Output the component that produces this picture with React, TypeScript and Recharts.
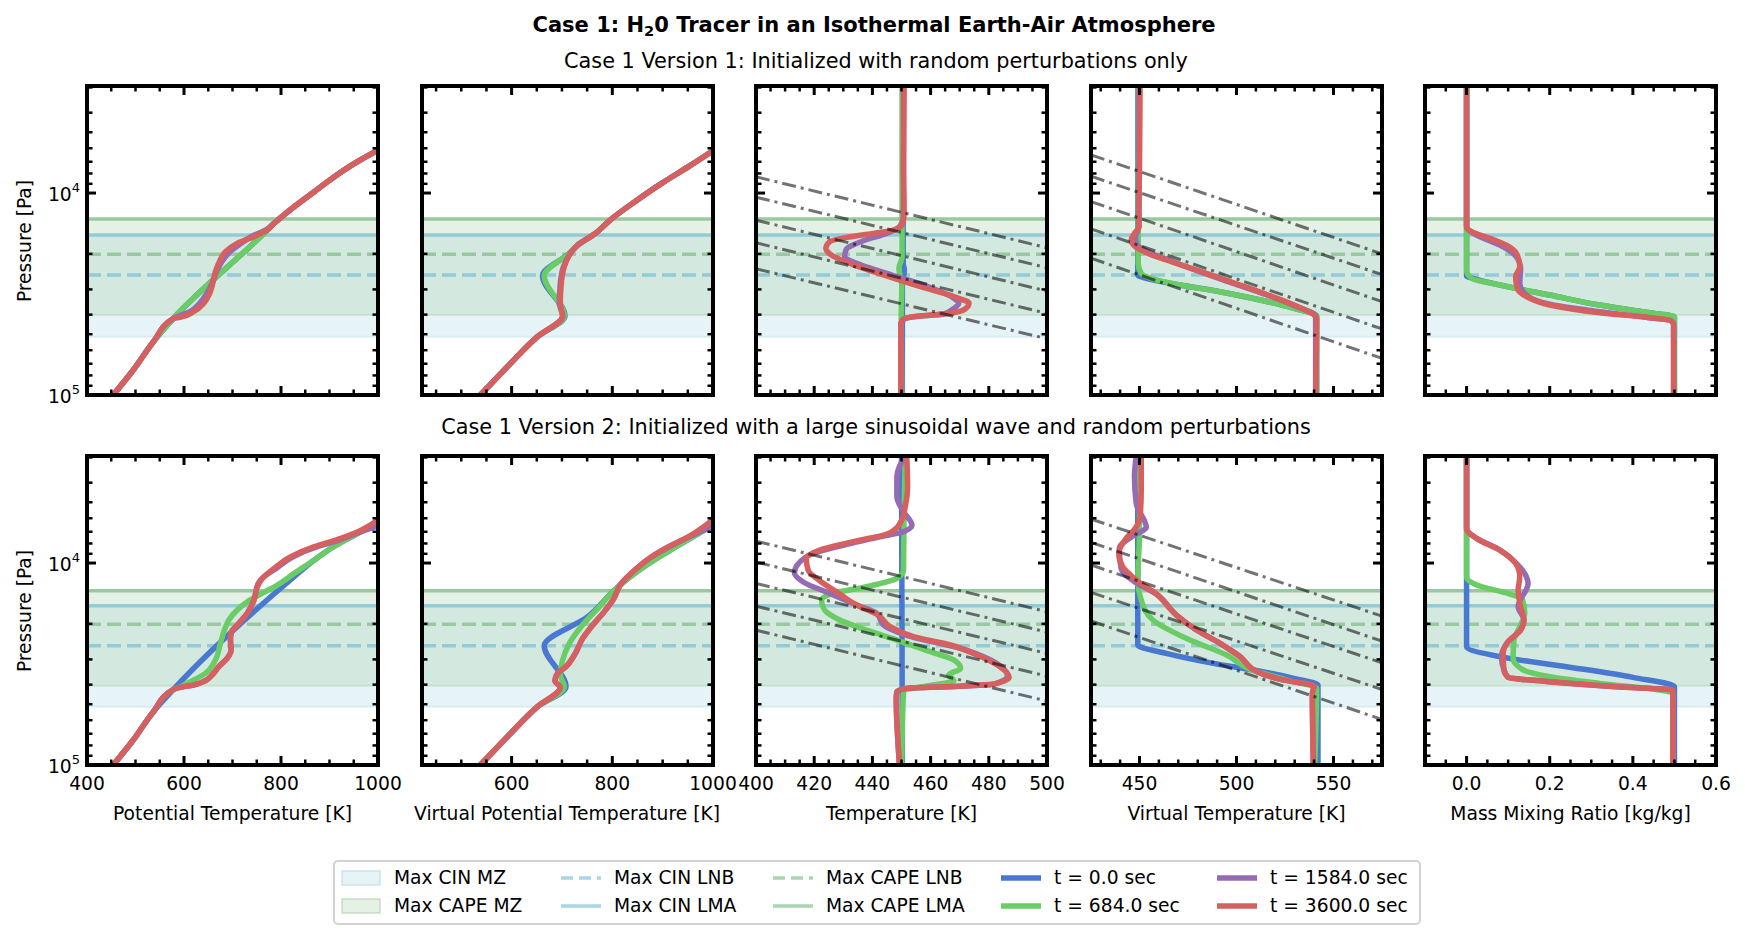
import React from 'react';
import { LineChart, Line, XAxis, YAxis, ReferenceArea, ReferenceLine } from 'recharts';

type Pt = [number, number]; // [pressure in Pa, x value]

const FONT = '"DejaVu Sans", "Liberation Sans", sans-serif';
const C_T0 = '#4878D0';
const C_T684 = '#6ACC64';
const C_T1584 = '#956CB4';
const C_T3600 = '#D65F5F';
const C_CIN_LINE = '#93cad7';
const C_CAPE_LINE = '#98c9a1';
const C_CIN_FILL = '#add8e6';
const C_CAPE_FILL = '#a8cfa6';

const FS = 18.7;

// ---------- pressure axis ----------
const P_DOMAIN: [number, number] = [2951, 100000];
const P_TICKS = [3000, 4000, 5000, 6000, 7000, 8000, 9000, 10000, 20000, 30000, 40000, 50000, 60000, 70000, 80000, 90000, 100000];
const P_MAJOR = [10000, 100000];

// ---------- x axes ----------
const THETA_DOMAIN: [number, number] = [400, 1000];
const THETA_TICKS = [400, 450, 500, 550, 600, 650, 700, 750, 800, 850, 900, 950, 1000];
const THETA_MAJOR = [400, 600, 800, 1000];
const THETAV_DOMAIN: [number, number] = [422, 1000];
const THETAV_TICKS = [450, 500, 550, 600, 650, 700, 750, 800, 850, 900, 950, 1000];
const THETAV_MAJOR = [600, 800, 1000];
const T_DOMAIN: [number, number] = [400, 500];
const T_TICKS = [400, 405, 410, 415, 420, 425, 430, 435, 440, 445, 450, 455, 460, 465, 470, 475, 480, 485, 490, 495, 500];
const T_MAJOR = [400, 420, 440, 460, 480, 500];
const TV_DOMAIN: [number, number] = [425, 575];
const TV_TICKS = [430, 440, 450, 460, 470, 480, 490, 500, 510, 520, 530, 540, 550, 560, 570];
const TV_MAJOR = [450, 500, 550];
const Q_DOMAIN: [number, number] = [-0.1, 0.6];
const Q_TICKS = [-0.05, 0, 0.05, 0.1, 0.15, 0.2, 0.25, 0.3, 0.35, 0.4, 0.45, 0.5, 0.55, 0.6];
const Q_MAJOR = [0, 0.2, 0.4, 0.6];

const X_LABELS = ['Potential Temperature [K]', 'Virtual Potential Temperature [K]', 'Temperature [K]', 'Virtual Temperature [K]', 'Mass Mixing Ratio [kg/kg]'];

// ---------- band / level pressures: [CAPE LMA, CIN LMA, CAPE LNB, CIN LNB, CAPE MZ bottom, CIN MZ bottom] ----------
const R1_LEVELS = [13450, 16140, 20120, 25460, 40180, 51430];
const R2_LEVELS = [13710, 16260, 20120, 25660, 40490, 51430];

// ================= ROW 1 =================
const R1_THETA_T0: Pt[] = [[6126, 1000], [7131, 951.6], [8300, 910.1], [9849, 868.6], [11690, 827.2], [14130, 785.7], [15250, 771.9], [41740, 578.3], [54450, 536.9], [75200, 495.4], [100000, 453.9]];
const R1_THETA_T684: Pt[] = [[6126, 1000], [7131, 951.6], [8300, 910.1], [9849, 868.6], [11690, 827.2], [14130, 785.7], [15250, 771.9], [41740, 578.3], [54450, 536.9], [75200, 495.4], [100000, 453.9]];
const R1_THETA_T1584: Pt[] = [[6126, 1000], [7131, 951.6], [8300, 910.1], [9849, 868.6], [11690, 827.2], [14130, 785.7], [15250, 768], [16450, 738], [17750, 718], [19520, 695], [21880, 678], [24510, 667], [28010, 658], [31380, 647], [35180, 632], [38680, 612], [41740, 578.3], [54450, 536.9], [75200, 495.4], [100000, 453.9]];
const R1_THETA_T3600: Pt[] = [[6126, 1000], [7131, 951.6], [8300, 910.1], [9849, 868.6], [11690, 827.2], [14130, 785.7], [15250, 771.9], [16450, 744.2], [17750, 709.7], [19520, 685.5], [21880, 673], [24510, 664.7], [28010, 659.2], [31380, 653], [35180, 640.5], [38680, 619.8], [41260, 592.2], [41740, 578.3], [54450, 536.9], [75200, 495.4], [100000, 453.9]];

const R1_THETAV_T0: Pt[] = [[6180, 1000], [7405, 951.3], [8958, 898], [11040, 844.7], [13450, 798], [15960, 764.7], [18090, 731.3], [19890, 714.7], [25660, 661.3], [40640, 706], [51430, 651.3], [69690, 598], [100000, 538]];
const R1_THETAV_T684: Pt[] = [[6180, 1000], [7405, 951.3], [8958, 898], [11040, 844.7], [13450, 798], [15960, 764.7], [18090, 731.3], [19890, 714.7], [25660, 664.7], [40640, 704.7], [51430, 651.3], [69690, 598], [100000, 538]];
const R1_THETAV_T1584: Pt[] = [[6180, 1000], [7405, 951.3], [8958, 898], [11040, 844.7], [13450, 798], [15960, 764.7], [18090, 731.3], [20270, 714.7], [23160, 703], [28010, 696.7], [35180, 694.7], [40640, 701.3], [51430, 651.3], [69690, 598], [100000, 538]];
const R1_THETAV_T3600: Pt[] = [[6180, 1000], [7405, 951.3], [8958, 898], [11040, 844.7], [13450, 798], [15960, 764.7], [18090, 731.3], [20270, 714.7], [23160, 704.7], [29090, 698], [35180, 696.7], [40640, 701.3], [51430, 651.3], [69690, 598], [100000, 538]];

const R1_T_T0: Pt[] = [[2951, 450.5], [22290, 450.6], [24060, 451], [28010, 450.3], [100000, 450.3]];
const R1_T_T684: Pt[] = [[2951, 450.2], [20660, 450.2], [23600, 449.1], [28010, 450.1], [40950, 449.9], [100000, 450.1]];
const R1_T_T1584: Pt[] = [[2951, 450.7], [13100, 450.7], [14680, 449.3], [15840, 444.9], [17220, 436.9], [19150, 430.9], [20660, 430.5], [22290, 434.6], [24980, 444.9], [28540, 457.6], [33220, 468], [35180, 469.7], [37240, 468], [39720, 464.5], [40950, 454.1], [42210, 450.7], [44520, 449.8], [100000, 449.8]];
const R1_T_T3600: Pt[] = [[2951, 450.9], [7693, 450.7], [12610, 450.9], [14400, 450.1], [15250, 447.2], [15840, 440.3], [16580, 431.1], [17420, 425.3], [18790, 424], [20270, 425.9], [22290, 432.3], [25460, 443.8], [29090, 456.5], [32590, 468], [35180, 473.2], [37670, 471.7], [39720, 464.5], [40950, 454.1], [42210, 450.7], [44520, 449.8], [100000, 449.8]];
const R1_T_GUIDES: Pt[][] = [
  [[8310, 400], [18670, 500]],
  [[10480, 400], [23440, 500]],
  [[13620, 400], [30590, 500]],
  [[17640, 400], [39450, 500]],
  [[23720, 400], [52670, 500]],
];

const R1_TV_T0: Pt[] = [[2951, 449.1], [25460, 449.1], [26450, 453.5], [28540, 470.8], [30790, 491.5], [33860, 512.3], [37240, 529.6], [40640, 541.3], [100000, 541.3]];
const R1_TV_T684: Pt[] = [[2951, 449.3], [22290, 449.3], [24980, 450.9], [26450, 456.1], [28540, 470.8], [30790, 491.5], [33860, 512.3], [37240, 529.6], [40640, 541.3], [100000, 541.3]];
const R1_TV_T1584: Pt[] = [[2951, 449.7], [14680, 449.7], [16450, 447.9], [17750, 448.3], [19740, 455.2], [21880, 467.3], [24510, 481.1], [28010, 498.4], [31990, 515.7], [36260, 530.4], [40640, 540.8], [100000, 540.8]];
const R1_TV_T3600: Pt[] = [[2951, 450.3], [7693, 450], [12140, 449.7], [14680, 449.7], [15840, 447.4], [17090, 445.7], [18300, 447.4], [19740, 453.5], [21460, 463.8], [24060, 479.4], [27480, 496.7], [31380, 514], [35850, 529.6], [40180, 540], [41740, 541.3], [100000, 540.8]];
const R1_TV_GUIDES: Pt[][] = [
  [[6474, 425], [20020, 575]],
  [[8256, 425], [25330, 575]],
  [[11020, 425], [34480, 575]],
  [[15050, 425], [47090, 575]],
  [[21020, 425], [65890, 575]],
];

const R1_Q_T0: Pt[] = [[2951, 0], [25760, 0], [26760, 0.024], [28540, 0.08], [31990, 0.2], [35850, 0.32], [39130, 0.44], [40950, 0.5], [100000, 0.5]];
const R1_Q_T684: Pt[] = [[2951, 0], [24060, 0], [26450, 0.012], [28540, 0.08], [31990, 0.2], [35850, 0.32], [39130, 0.44], [40950, 0.5], [100000, 0.5]];
const R1_Q_T1584: Pt[] = [[2951, 0], [14680, 0], [16140, 0.024], [18090, 0.08], [20270, 0.116], [23600, 0.13], [28010, 0.128], [31990, 0.144], [35850, 0.208], [38680, 0.32], [41420, 0.44], [42860, 0.492], [45020, 0.498], [100000, 0.498]];
const R1_Q_T3600: Pt[] = [[2951, 0], [14680, 0], [15540, 0.012], [16770, 0.056], [18300, 0.1], [20270, 0.122], [23160, 0.128], [25950, 0.118], [29650, 0.122], [32590, 0.144], [35850, 0.2], [39130, 0.32], [41420, 0.44], [42860, 0.492], [45020, 0.498], [100000, 0.498]];

// ================= ROW 2 =================
const R2_THETA_T0: Pt[] = [[6364, 1000], [7269, 951.6], [8237, 910.1], [9663, 868.6], [11690, 827.2], [42210, 578.3], [54450, 536.9], [75200, 495.4], [100000, 453.9]];
const R2_THETA_T684: Pt[] = [[6364, 1000], [7269, 951.6], [8237, 910.1], [9663, 868.6], [11250, 827.2], [12850, 792.6], [14240, 758], [15540, 730.4], [17420, 706.2], [19150, 692.4], [21460, 683.4], [24980, 675.1], [30210, 664.7], [35180, 644], [38680, 612.9], [40950, 592.2], [42210, 578.3], [54450, 536.9], [75200, 495.4], [100000, 453.9]];
const R2_THETA_T1584: Pt[] = [[6547, 1000], [7185, 951.6], [7843, 910.1], [8300, 875], [9303, 825], [10630, 790], [11450, 770], [12610, 753], [15250, 744.2], [17750, 730.4], [19890, 713.1], [22130, 697.2], [24060, 695.8], [26960, 697.2], [29650, 688.9], [32590, 671.6], [35850, 657.8], [38240, 644], [40180, 619.8], [41260, 592.2], [42210, 578.3], [54450, 536.9], [75200, 495.4], [100000, 453.9]];
const R2_THETA_T3600: Pt[] = [[6126, 1000], [6998, 958.5], [7635, 917], [8300, 868.6], [9303, 820.3], [10630, 785.7], [11910, 761.5], [13100, 751.1], [15250, 744.2], [17750, 730.4], [19890, 713.1], [22130, 697.2], [24060, 695.8], [26960, 697.2], [29650, 688.9], [32590, 671.6], [35850, 657.8], [38240, 644], [40180, 619.8], [41260, 592.2], [42210, 578.3], [54450, 536.9], [75200, 495.4], [100000, 453.9]];

const R2_THETAV_T0: Pt[] = [[6486, 1000], [7635, 951.3], [8958, 904.7], [10630, 858], [13100, 811.3], [18440, 751.3], [25660, 664.7], [40950, 708], [51430, 651.3], [69690, 598], [100000, 538]];
const R2_THETAV_T684: Pt[] = [[6486, 1000], [7635, 951.3], [8958, 904.7], [10630, 858], [13100, 811.3], [16770, 771.3], [20660, 738], [24980, 714.7], [30210, 701.3], [35850, 696.7], [40950, 704.7], [51430, 651.3], [69690, 598], [100000, 538]];
const R2_THETAV_T1584: Pt[] = [[6547, 1000], [7405, 953], [8300, 913], [9303, 878], [10830, 844.7], [12610, 818], [15250, 801.3], [17750, 781.3], [20270, 761.3], [23600, 741.3], [28540, 724.7], [32590, 708], [35180, 691.3], [38240, 686], [41260, 696.7], [51430, 651.3], [69690, 598], [100000, 538]];
const R2_THETAV_T3600: Pt[] = [[6097, 1000], [7405, 951.3], [8300, 911.3], [9303, 878], [10830, 844.7], [12610, 818], [15250, 801.3], [17750, 781.3], [20270, 761.3], [23600, 741.3], [28540, 724.7], [32590, 708], [35180, 691.3], [38240, 686], [41260, 696.7], [51430, 651.3], [69690, 598], [100000, 538]];

const R2_T_T0: Pt[] = [[2951, 450], [100000, 450.3]];
const R2_T_T684: Pt[] = [[2951, 451.3], [5262, 450.9], [10830, 450.7], [11910, 448.4], [13100, 438], [14130, 426.5], [15250, 422.5], [17090, 423.6], [19150, 428.8], [21460, 438], [24060, 448.4], [27160, 458.8], [30210, 468], [33220, 470.3], [35850, 466.2], [38240, 468], [40640, 458.8], [42860, 450.7], [100000, 450.1]];
const R2_T_T1584: Pt[] = [[2951, 451.3], [3738, 448.4], [4695, 448.4], [5570, 450.7], [6486, 453.6], [6998, 450.7], [7405, 442.6], [8237, 428.8], [9303, 417.3], [11170, 413.2], [12370, 416.1], [14130, 425.3], [16140, 434.6], [17750, 441.5], [20270, 443.8], [23330, 454.1], [26450, 470.3], [30210, 480.6], [36260, 486.4], [39720, 481.8], [40950, 465.7], [41740, 451.8], [43350, 448.4], [46770, 448.2], [100000, 449.3]];
const R2_T_T3600: Pt[] = [[2951, 451.8], [4190, 452.1], [5262, 451.3], [6244, 449.8], [7131, 445.5], [7840, 433.4], [8623, 421.9], [9482, 417.3], [10830, 417.9], [12230, 421.9], [13870, 427.6], [16140, 434.6], [18090, 442], [20660, 446.1], [23160, 454.1], [25460, 466.8], [28540, 476], [31990, 482.9], [36810, 487], [39720, 481.8], [40950, 465.7], [41740, 451.8], [43350, 448.4], [46770, 448.2], [100000, 449.3]];
const R2_T_GUIDES: Pt[][] = [
  [[7790, 400], [17430, 500]],
  [[9897, 400], [21980, 500]],
  [[12620, 400], [28020, 500]],
  [[16350, 400], [36290, 500]],
  [[21490, 400], [48250, 500]],
];

const R2_TV_T0: Pt[] = [[2951, 449.1], [25460, 449.1], [28010, 463.8], [31380, 488.1], [33860, 508.8], [37240, 529.6], [40180, 542], [100000, 542]];
const R2_TV_T684: Pt[] = [[2951, 450], [7131, 450], [12140, 449.1], [15250, 450.9], [19150, 456.9], [24060, 476], [28540, 495], [33600, 507.1], [37960, 526.1], [41740, 541.3], [100000, 540.3]];
const R2_TV_T1584: Pt[] = [[2951, 448.3], [3738, 447.4], [5065, 448.3], [6659, 453.5], [7269, 447.4], [8461, 439.6], [10630, 440.5], [12370, 447.4], [14240, 458.7], [18090, 469], [21460, 479.4], [24980, 491.5], [29090, 501.9], [34510, 510.6], [37670, 522.7], [40640, 540], [44180, 539.1], [100000, 539.6]];
const R2_TV_T3600: Pt[] = [[2951, 450.9], [4352, 450.9], [5898, 450.3], [6813, 447.4], [7548, 443.1], [8958, 439.3], [10430, 441.3], [12140, 448.3], [14240, 458.7], [18090, 469], [21460, 479.4], [24980, 491.5], [29090, 501.9], [34510, 510.6], [37670, 522.7], [40640, 540], [44180, 539.1], [100000, 539.6]];
const R2_TV_GUIDES: Pt[][] = [
  [[6056, 425], [18320, 575]],
  [[7901, 425], [24370, 575]],
  [[10230, 425], [31190, 575]],
  [[13970, 425], [42270, 575]],
  [[19370, 425], [59500, 575]],
];

const R2_Q_T0: Pt[] = [[2951, 0], [25950, 0], [29090, 0.08], [32590, 0.24], [36810, 0.4], [40950, 0.5], [100000, 0.5]];
const R2_Q_T684: Pt[] = [[2951, 0], [11690, 0], [12850, 0.024], [14240, 0.104], [15130, 0.134], [17750, 0.14], [20660, 0.128], [24060, 0.114], [29650, 0.112], [33600, 0.134], [36540, 0.2], [39430, 0.32], [42540, 0.464], [44180, 0.496], [100000, 0.496]];
const R2_Q_T1584: Pt[] = [[2951, 0], [6738, 0], [7548, 0.024], [8623, 0.08], [10040, 0.12], [11690, 0.144], [12610, 0.148], [16450, 0.124], [19150, 0.138], [21460, 0.13], [24800, 0.098], [29090, 0.084], [33860, 0.09], [36810, 0.1], [38680, 0.2], [40950, 0.36], [42540, 0.496], [100000, 0.496]];
const R2_Q_T3600: Pt[] = [[2951, 0], [6738, 0], [7548, 0.024], [8623, 0.08], [10040, 0.118], [11690, 0.128], [13610, 0.124], [16450, 0.13], [19150, 0.138], [21460, 0.13], [24800, 0.098], [28010, 0.088], [33860, 0.09], [36810, 0.1], [38680, 0.2], [40950, 0.36], [42540, 0.496], [100000, 0.496]];

// ---------- layout ----------
const FRAME_LEFTS = [87, 421.5, 756, 1091, 1425];
const ROW_TOPS = [86, 456];
const PW = 291;
const PH = 309;
const ML = 80;
const MR = 40;
const MT = 14;
const MB = 40;

const isIn = (v: number, arr: number[]) => arr.some((a) => Math.abs(a - v) < 1e-9);
const toRows = (pts: Pt[]) => pts.map(([p, v]) => ({ p, v }));

type AxisCfg = { domain: [number, number]; ticks: number[]; major: number[]; fmt: (v: number) => string };

const AXES: AxisCfg[] = [
  { domain: THETA_DOMAIN, ticks: THETA_TICKS, major: THETA_MAJOR, fmt: (v) => String(v) },
  { domain: THETAV_DOMAIN, ticks: THETAV_TICKS, major: THETAV_MAJOR, fmt: (v) => String(v) },
  { domain: T_DOMAIN, ticks: T_TICKS, major: T_MAJOR, fmt: (v) => String(v) },
  { domain: TV_DOMAIN, ticks: TV_TICKS, major: TV_MAJOR, fmt: (v) => String(v) },
  { domain: Q_DOMAIN, ticks: Q_TICKS, major: Q_MAJOR, fmt: (v) => v.toFixed(1) },
];

const ROW_SERIES: Pt[][][][] = [
  [
    [R1_THETA_T0, R1_THETA_T684, R1_THETA_T1584, R1_THETA_T3600],
    [R1_THETAV_T0, R1_THETAV_T684, R1_THETAV_T1584, R1_THETAV_T3600],
    [R1_T_T0, R1_T_T684, R1_T_T1584, R1_T_T3600],
    [R1_TV_T0, R1_TV_T684, R1_TV_T1584, R1_TV_T3600],
    [R1_Q_T0, R1_Q_T684, R1_Q_T1584, R1_Q_T3600],
  ],
  [
    [R2_THETA_T0, R2_THETA_T684, R2_THETA_T1584, R2_THETA_T3600],
    [R2_THETAV_T0, R2_THETAV_T684, R2_THETAV_T1584, R2_THETAV_T3600],
    [R2_T_T0, R2_T_T684, R2_T_T1584, R2_T_T3600],
    [R2_TV_T0, R2_TV_T684, R2_TV_T1584, R2_TV_T3600],
    [R2_Q_T0, R2_Q_T684, R2_Q_T1584, R2_Q_T3600],
  ],
];
const ROW_GUIDES: (Pt[][] | null)[][] = [
  [null, null, R1_T_GUIDES, R1_TV_GUIDES, null],
  [null, null, R2_T_GUIDES, R2_TV_GUIDES, null],
];
const ROW_LEVELS = [R1_LEVELS, R2_LEVELS];
const SERIES_COLORS = [C_T0, C_T684, C_T1584, C_T3600];

const TK = { stroke: '#000' };

function Panel({ row, col }: { row: number; col: number }) {
  const axis = AXES[col];
  const series = ROW_SERIES[row][col];
  const guides = ROW_GUIDES[row][col];
  const lv = ROW_LEVELS[row];
  const showX = row === 1;
  const showY = col === 0;
  const spine = { stroke: '#000', strokeWidth: 4, strokeLinecap: 'square' as const };

  const bottomTick = (props: any) => {
    const { x, y, payload } = props;
    const major = isIn(payload.value, axis.major);
    return (
      <g>
        <line x1={x} x2={x} y1={y} y2={y - (major ? 9 : 5.5)} {...TK} strokeWidth={major ? 3 : 2.5} />
        {showX && major ? (
          <text x={x} y={y + 25} textAnchor="middle" fontSize={FS} fontFamily={FONT} fill="#000">{axis.fmt(payload.value)}</text>
        ) : null}
      </g>
    );
  };
  const topTick = (props: any) => {
    const { x, y, payload } = props;
    const major = isIn(payload.value, axis.major);
    return <line x1={x} x2={x} y1={y} y2={y + (major ? 9 : 5.5)} {...TK} strokeWidth={major ? 3 : 2.5} />;
  };
  const leftTick = (props: any) => {
    const { x, y, payload } = props;
    const major = isIn(payload.value, P_MAJOR);
    const exp = Math.round(Math.log10(payload.value));
    return (
      <g>
        <line x1={x} x2={x + (major ? 9 : 5.5)} y1={y} y2={y} {...TK} strokeWidth={major ? 3 : 2.5} />
        {showY && major ? (
          <text x={x - 7} y={y + 8} textAnchor="end" fontSize={FS} fontFamily={FONT} fill="#000">
            10<tspan dy={-9} fontSize={13}>{exp}</tspan>
          </text>
        ) : null}
      </g>
    );
  };
  const rightTick = (props: any) => {
    const { x, y, payload } = props;
    const major = isIn(payload.value, P_MAJOR);
    return <line x1={x} x2={x - (major ? 9 : 5.5)} y1={y} y2={y} {...TK} strokeWidth={major ? 3 : 2.5} />;
  };

  return (
    <div style={{ position: 'absolute', left: FRAME_LEFTS[col] - ML - 1, top: ROW_TOPS[row] - MT - 1 }}>
      <LineChart width={PW + ML + MR + 2} height={PH + MT + MB + 2} layout="vertical" margin={{ top: MT, right: MR, bottom: MB, left: ML }}>
        <ReferenceArea xAxisId="b" yAxisId="l" y1={lv[1]} y2={lv[5]} fill={C_CIN_FILL} fillOpacity={0.3} stroke={C_CIN_FILL} strokeOpacity={0.35} strokeWidth={2} ifOverflow="visible" />
        <ReferenceArea xAxisId="b" yAxisId="l" y1={lv[0]} y2={lv[4]} fill={C_CAPE_FILL} fillOpacity={0.3} stroke={C_CAPE_FILL} strokeOpacity={0.35} strokeWidth={2} ifOverflow="visible" />
        <ReferenceLine xAxisId="b" yAxisId="l" y={lv[1]} stroke={C_CIN_LINE} strokeWidth={3.5} />
        <ReferenceLine xAxisId="b" yAxisId="l" y={lv[0]} stroke={C_CAPE_LINE} strokeWidth={3.5} />
        <ReferenceLine xAxisId="b" yAxisId="l" y={lv[3]} stroke={C_CIN_LINE} strokeWidth={3.5} strokeDasharray="14 6" />
        <ReferenceLine xAxisId="b" yAxisId="l" y={lv[2]} stroke={C_CAPE_LINE} strokeWidth={3.5} strokeDasharray="14 6" />
        {series.map((pts, i) => (
          <Line
            key={'s' + i}
            xAxisId="b"
            yAxisId="l"
            data={toRows(pts)}
            dataKey="v"
            type="monotone"
            stroke={SERIES_COLORS[i]}
            strokeWidth={5.5}
            dot={false}
            activeDot={false}
            isAnimationActive={false}
            strokeLinejoin="round"
          />
        ))}
        {guides
          ? guides.map((pts, i) => (
              <Line
                key={'g' + i}
                xAxisId="b"
                yAxisId="l"
                data={toRows(pts)}
                dataKey="v"
                type="linear"
                stroke="#000"
                strokeOpacity={0.55}
                strokeWidth={3}
                strokeDasharray="14 5 3 5"
                dot={false}
                activeDot={false}
                isAnimationActive={false}
              />
            ))
          : null}
        <XAxis xAxisId="b" orientation="bottom" type="number" domain={axis.domain} allowDataOverflow ticks={axis.ticks} interval={0} height={1} tickSize={0} tickMargin={0} tickLine={false} axisLine={spine} tick={bottomTick} />
        <XAxis xAxisId="t" orientation="top" type="number" domain={axis.domain} allowDataOverflow ticks={axis.ticks} interval={0} height={1} tickSize={0} tickMargin={0} tickLine={false} axisLine={spine} tick={topTick} />
        <YAxis yAxisId="l" orientation="left" type="number" dataKey="p" scale="log" domain={P_DOMAIN} allowDataOverflow ticks={P_TICKS} interval={0} width={1} tickSize={0} tickMargin={0} tickLine={false} axisLine={spine} tick={leftTick} />
        <YAxis yAxisId="r" orientation="right" type="number" dataKey="p" scale="log" domain={P_DOMAIN} allowDataOverflow ticks={P_TICKS} interval={0} width={1} tickSize={0} tickMargin={0} tickLine={false} axisLine={spine} tick={rightTick} />
      </LineChart>
    </div>
  );
}

function Txt({ x, y, children, bold, rotate, size }: { x: number; y: number; children: React.ReactNode; bold?: boolean; rotate?: boolean; size?: number }) {
  return (
    <div
      style={{
        position: 'absolute',
        left: x,
        top: y,
        transform: `translate(-50%, -50%)${rotate ? ' rotate(-90deg)' : ''}`,
        whiteSpace: 'nowrap',
        lineHeight: 1,
        fontSize: size ?? FS,
        fontWeight: bold ? 'bold' : 'normal',
        fontFamily: FONT,
        color: '#000',
      }}
    >
      {children}
    </div>
  );
}

// ---------- legend ----------
const LEG_COL_X = [341, 561, 773, 1001, 1217];
const LEG_ROW_Y = [877.5, 906];
const LEG_LABELS = [
  ['Max CIN MZ', 'Max CAPE MZ'],
  ['Max CIN LNB', 'Max CIN LMA'],
  ['Max CAPE LNB', 'Max CAPE LMA'],
  ['t = 0.0 sec', 't = 684.0 sec'],
  ['t = 1584.0 sec', 't = 3600.0 sec'],
];

function Handle({ col, row }: { col: number; row: number }) {
  let el: React.ReactNode = null;
  if (col === 0) {
    const c = row === 0 ? C_CIN_FILL : C_CAPE_FILL;
    el = <rect x={1} y={3} width={38} height={14} fill={c} fillOpacity={0.3} stroke={c} strokeOpacity={0.45} strokeWidth={2} />;
  } else if (col === 1 || col === 2) {
    const c = col === 1 ? '#a9d6e4' : '#a9d5b1';
    el = <line x1={0} x2={40} y1={10} y2={10} stroke={c} strokeWidth={3.5} strokeDasharray={row === 0 ? '12 6' : undefined} />;
  } else {
    const c = col === 3 ? (row === 0 ? C_T0 : C_T684) : row === 0 ? C_T1584 : C_T3600;
    el = <line x1={0} x2={40} y1={10} y2={10} stroke={c} strokeWidth={5.5} />;
  }
  return (
    <svg width={40} height={20} style={{ position: 'absolute', left: LEG_COL_X[col], top: LEG_ROW_Y[row] - 10 }}>
      {el}
    </svg>
  );
}

function LegendBox() {
  const items: React.ReactNode[] = [];
  LEG_LABELS.forEach((pair, col) =>
    pair.forEach((label, row) => {
      items.push(<Handle key={`h${col}${row}`} col={col} row={row} />);
      items.push(
        <div
          key={`t${col}${row}`}
          style={{ position: 'absolute', left: LEG_COL_X[col] + 53, top: LEG_ROW_Y[row], transform: 'translateY(-50%)', fontSize: FS, fontFamily: FONT, lineHeight: 1, whiteSpace: 'nowrap' }}
        >
          {label}
        </div>
      );
    })
  );
  return (
    <>
      <div style={{ position: 'absolute', left: 333, top: 860, width: 1088, height: 65, border: '2px solid #d2d2d2', borderRadius: 5, boxSizing: 'border-box', background: '#fff' }} />
      {items}
    </>
  );
}

export default function App() {
  const panels: React.ReactNode[] = [];
  for (let r = 0; r < 2; r++) for (let c = 0; c < 5; c++) panels.push(<Panel key={`p${r}${c}`} row={r} col={c} />);
  return (
    <div style={{ position: 'absolute', left: 0, top: 0, width: 1745, height: 939, background: '#fff', overflow: 'hidden', fontFamily: FONT }}>
      <Txt x={874} y={25} bold size={21}>
        Case 1: H<span style={{ fontSize: '0.7em', position: 'relative', top: '0.3em' }}>2</span>0 Tracer in an Isothermal Earth-Air Atmosphere
      </Txt>
      <Txt x={876} y={61} size={20.8}>Case 1 Version 1: Initialized with random perturbations only</Txt>
      <Txt x={876} y={427} size={20.8}>Case 1 Version 2: Initialized with a large sinusoidal wave and random perturbations</Txt>
      {panels}
      {X_LABELS.map((l, i) => (
        <Txt key={l} x={FRAME_LEFTS[i] + PW / 2} y={814}>
          {l}
        </Txt>
      ))}
      <Txt x={25} y={ROW_TOPS[0] + PH / 2} rotate>
        Pressure [Pa]
      </Txt>
      <Txt x={25} y={ROW_TOPS[1] + PH / 2} rotate>
        Pressure [Pa]
      </Txt>
      <LegendBox />
    </div>
  );
}
